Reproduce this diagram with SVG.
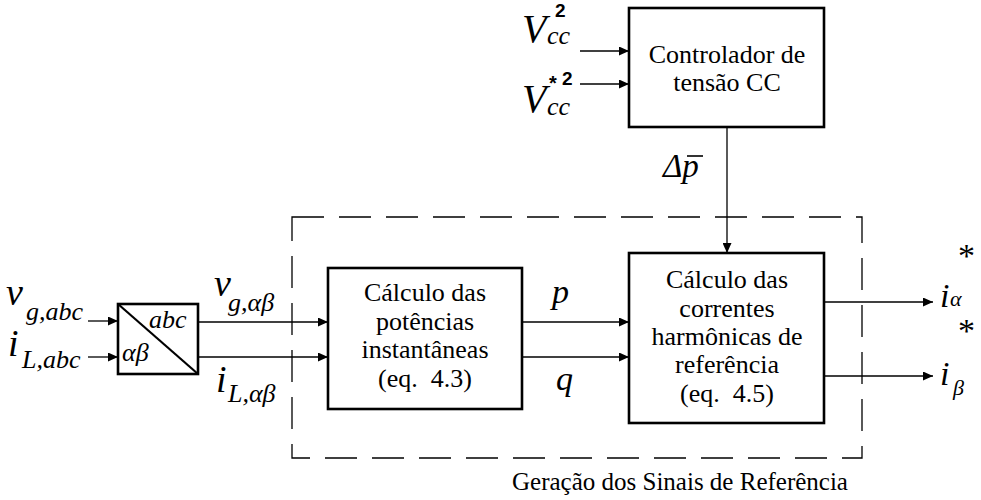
<svg xmlns="http://www.w3.org/2000/svg" width="981" height="500" viewBox="0 0 981 500">
<style>
.box{fill:#fff;stroke:#000;stroke-width:2.6}
.ar{fill:none;stroke:#000;stroke-width:1.3;marker-end:url(#ah)}
.t{font-family:"Liberation Serif","Times New Roman",serif;font-size:26px;fill:#000}
.m{font-family:"Liberation Serif","Times New Roman",serif;font-style:italic;fill:#000}
.s{font-family:"Liberation Sans",Arial,sans-serif;font-weight:bold;fill:#000}
</style>
<defs>
<marker id="ah" markerUnits="userSpaceOnUse" markerWidth="11" markerHeight="9" refX="10" refY="4.5" orient="auto"><path d="M0,0 L10,4.5 L0,9 z" fill="#000"/></marker>
</defs>
<rect width="981" height="500" fill="#fff"/>
<g id="group-boundary">
<rect x="292" y="217" width="570" height="241" fill="none" stroke="#000" stroke-width="1.3" stroke-dasharray="32,15"/>
<text class="t" x="512" y="490" style="font-size:25px">Geração dos Sinais de Referência</text>
</g>
<g id="connectors">
<line class="ar" x1="580" y1="51" x2="629" y2="51"/>
<line class="ar" x1="580" y1="84" x2="629" y2="84"/>
<line class="ar" x1="727" y1="127" x2="727" y2="253"/>
<line class="ar" x1="88" y1="321" x2="118" y2="321"/>
<line class="ar" x1="88" y1="357" x2="118" y2="357"/>
<line class="ar" x1="198" y1="322" x2="328" y2="322"/>
<line class="ar" x1="198" y1="357" x2="328" y2="357"/>
<line class="ar" x1="522" y1="322" x2="629" y2="322"/>
<line class="ar" x1="522" y1="357" x2="629" y2="357"/>
<line class="ar" x1="824" y1="302" x2="933" y2="302"/>
<line class="ar" x1="824" y1="376" x2="933" y2="376"/>
</g>
<g id="controlador">
<rect class="box" x="629" y="8" width="195" height="119"/>
<text class="t" x="727" y="63" text-anchor="middle">Controlador de</text>
<text class="t" x="727" y="91" text-anchor="middle">tensão CC</text>
</g>
<g id="transformacao">
<rect class="box" x="118" y="304" width="80" height="70"/>
<line x1="118" y1="304" x2="198" y2="374" stroke="#000" stroke-width="2.2"/>
<text class="m" x="149" y="328" font-size="26">abc</text>
<text class="m" x="122" y="361" font-size="26">αβ</text>
</g>
<g id="calculo-potencias">
<rect class="box" x="328" y="268" width="194" height="141"/>
<text class="t" x="425" y="301" text-anchor="middle">Cálculo das</text>
<text class="t" x="425" y="330" text-anchor="middle">potências</text>
<text class="t" x="425" y="358" text-anchor="middle">instantâneas</text>
<text class="t" x="425" y="387" text-anchor="middle" xml:space="preserve">(eq.  4.3)</text>
</g>
<g id="calculo-correntes">
<rect class="box" x="629" y="253" width="195" height="170"/>
<text class="t" x="727" y="288" text-anchor="middle">Cálculo das</text>
<text class="t" x="727" y="317" text-anchor="middle">correntes</text>
<text class="t" x="727" y="345" text-anchor="middle">harmônicas de</text>
<text class="t" x="727" y="373" text-anchor="middle">referência</text>
<text class="t" x="727" y="402" text-anchor="middle" xml:space="preserve">(eq.  4.5)</text>
</g>
<g id="labels">
<text class="m" x="522" y="42" font-size="40">V</text>
<text class="m" x="547" y="44" font-size="26">cc</text>
<text class="s" x="555" y="17" font-size="19">2</text>
<text class="m" x="522" y="112" font-size="40">V</text>
<text class="m" x="547" y="115" font-size="26">cc</text>
<text class="s" x="549" y="90" font-size="20">*</text>
<text class="s" x="562" y="85" font-size="19">2</text>
<text class="m" x="663" y="177" font-size="33">Δp</text>
<line x1="687" y1="156" x2="703" y2="156" stroke="#000" stroke-width="1.6"/>
<text class="m" x="6" y="305" font-size="38">v</text>
<text class="m" x="26" y="320" font-size="26">g,abc</text>
<text class="m" x="8" y="356" font-size="38">i</text>
<text class="m" x="22" y="368" font-size="26">L,abc</text>
<text class="m" x="214" y="296" font-size="38">v</text>
<text class="m" x="228" y="311" font-size="26">g,αβ</text>
<text class="m" x="216" y="392" font-size="38">i</text>
<text class="m" x="228" y="402" font-size="26">L,αβ</text>
<text class="m" x="552" y="303" font-size="34">p</text>
<text class="m" x="556" y="390" font-size="34">q</text>
<text class="m" x="940" y="307" font-size="34">i</text>
<text class="m" x="950" y="306" font-size="22">α</text>
<text class="t" x="958" y="267" style="font-size:34px">*</text>
<text class="m" x="940" y="385" font-size="34">i</text>
<text class="m" x="953" y="395" font-size="22">β</text>
<text class="t" x="958" y="342" style="font-size:34px">*</text>
</g>
</svg>
